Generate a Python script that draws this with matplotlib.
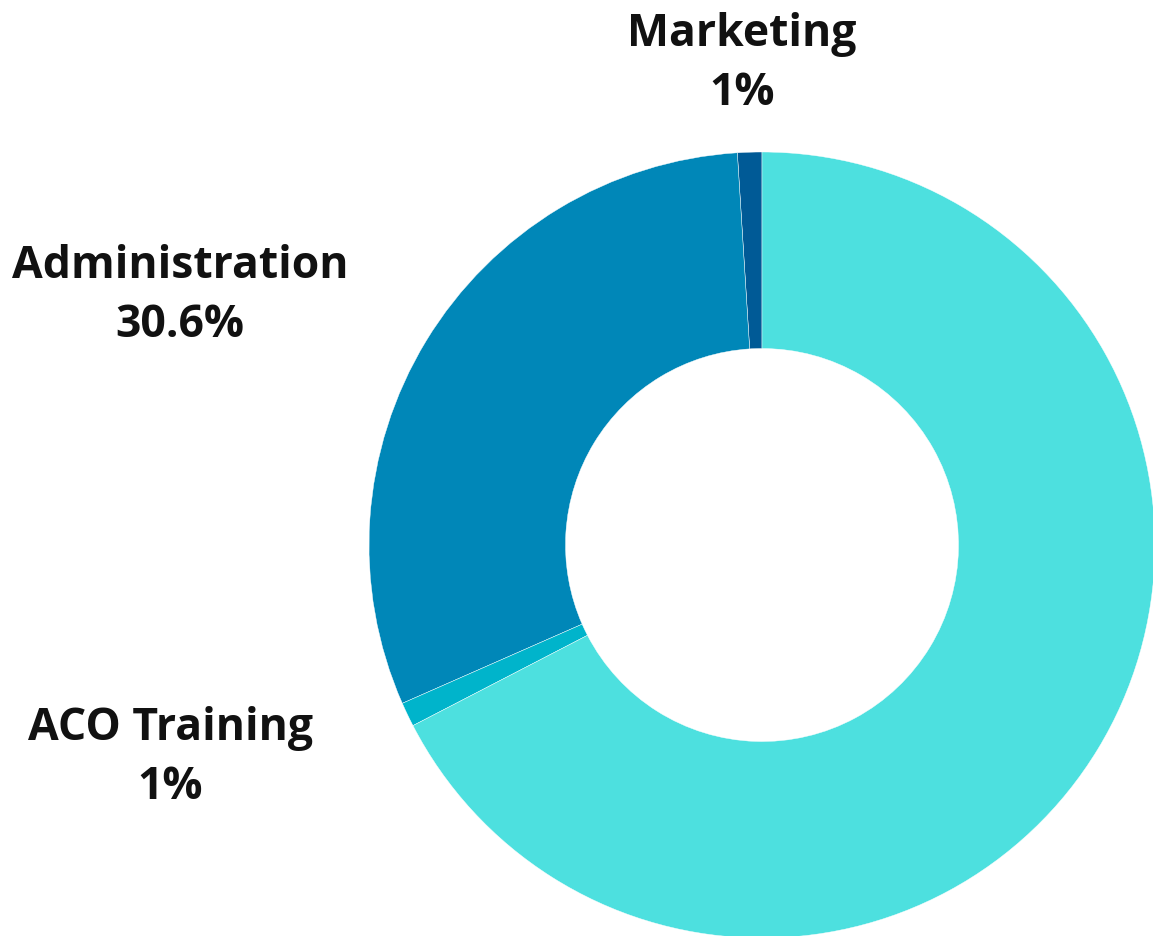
import matplotlib.pyplot as plt

# slice data, counter-clockwise from 12 o'clock
categories = ['Marketing', 'Administration', 'ACO Training', 'Other']
shares = [1.0, 30.6, 1.0, 67.4]
label_text = ['Marketing\n1%', 'Administration\n30.6%', 'ACO Training\n1%', '']
colors = ['#005A96', '#0087B8', '#00B4CB', '#4DE0DF']

W, H = 1153, 936
fig = plt.figure(figsize=(W / 100, H / 100), dpi=100)
ax = fig.add_axes([0, 0, 1, 1])

cx, cy, r = 762, H - 545, 393
ax.pie(shares, colors=colors, startangle=90, counterclock=True,
       center=(cx, cy), radius=r, frame=True,
       wedgeprops=dict(width=r * 0.5, edgecolor='white', linewidth=0.3))
ax.set_xlim(0, W)
ax.set_ylim(0, H)
ax.set_aspect('equal')
ax.axis('off')

# label positions in pixels (x, y from top)
label_pos = [(742, 64), (180, 296), (170, 758)]
for (x, y), txt in zip(label_pos, label_text[:3]):
    ax.text(x, H - y, txt, ha='center', va='center', fontsize=32,
            fontweight='bold', family='Open Sans', linespacing=1.42,
            color='#111111')

fig.savefig('out.png', dpi=100, facecolor='white')
